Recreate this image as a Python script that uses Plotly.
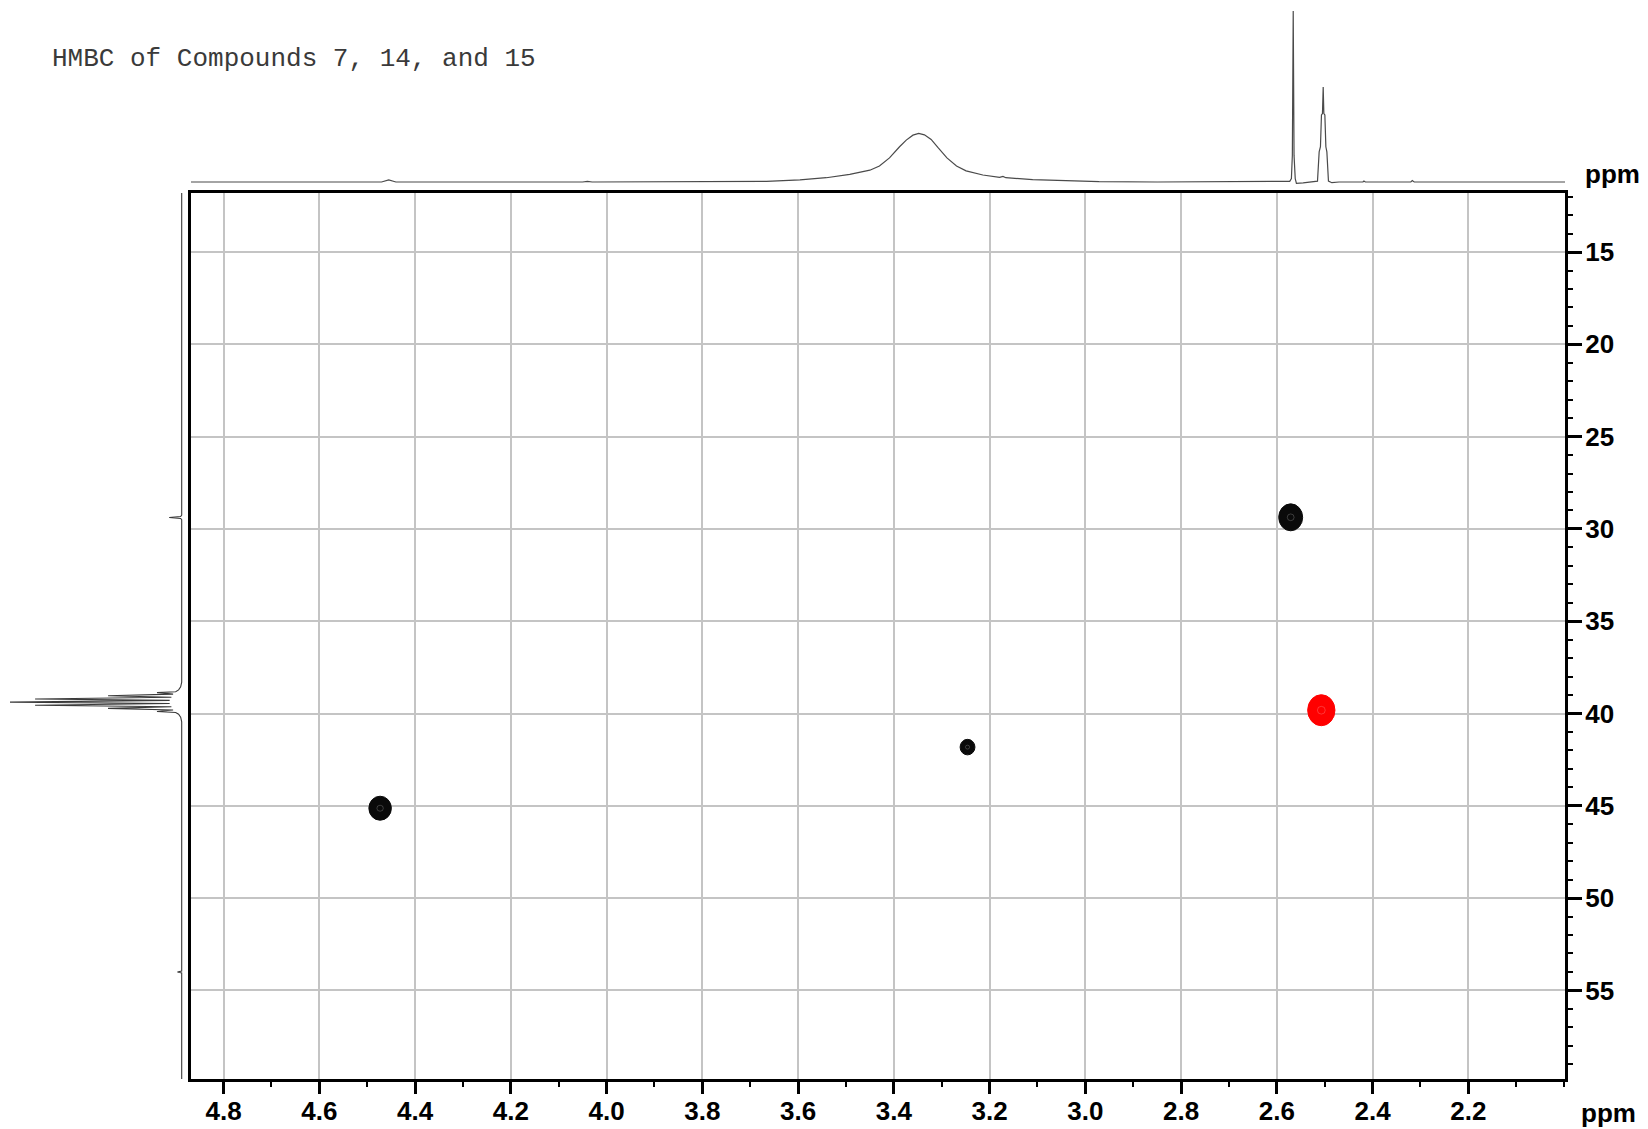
import plotly.graph_objects as go

W, H = 1648, 1129

# ---------------- data ----------------
# 1H projection (top trace): chemical shift (ppm) and relative intensity (tallest = 100)
h_ppm = [4.868, 4.47, 4.455, 4.44, 4.05, 4.04, 4.03, 3.93, 3.92, 3.91,
         3.805, 3.736, 3.666, 3.596, 3.541, 3.492, 3.450, 3.430, 3.409, 3.388,
         3.374, 3.360, 3.348, 3.336, 3.322, 3.308, 3.289, 3.269, 3.249, 3.214,
         3.179, 3.172, 3.166, 3.110, 3.040, 2.971, 2.85,
         2.60, 2.585, 2.573, 2.5695, 2.5675, 2.5657, 2.5640, 2.5615, 2.559, 2.545, 2.53,
         2.522, 2.515, 2.5115, 2.5088, 2.5067, 2.5046, 2.5031, 2.5017, 2.4996, 2.4975,
         2.4954, 2.4921, 2.485, 2.47, 2.42, 2.418, 2.415, 2.32, 2.317, 2.313, 1.998]
h_int = [0, 0, 1.2, 0, 0, 0.4, 0, 0, 0.4, 0,
         0.1, 0.2, 0.4, 1.2, 2.5, 4.5, 6.9, 9.4, 14.1, 20.6,
         24.5, 27.4, 28.4, 27.6, 24.9, 20.2, 14.1, 9.4, 6.5, 4.1,
         2.7, 3.3, 2.5, 1.4, 0.6, 0.2, 0,
         0, 0.2, 0.4, 2, 15.7, 100, 15.7, 2, -0.8, -0.5, 0,
         0, 0.5, 17.6, 20.6, 39.2, 40.0, 55.5, 40.0, 39.2, 20.6,
         17.6, 0.5, -0.4, 0, 0, 0.6, 0, 0, 0.8, 0, 0]

# 13C projection (left trace): chemical shift (ppm) and relative intensity
c_ppm = [11.8, 29.25, 29.33, 29.38, 29.43, 29.5, 38.3, 38.55, 38.72, 38.82,
         38.87, 38.95, 39.04, 39.12, 39.21, 39.29, 39.38, 39.46, 39.55, 39.63,
         39.72, 39.81, 39.89, 39.94, 40.04, 40.2, 40.45, 53.95, 54.0, 54.05, 59.8]
c_int = [0, 0, 0.6, 7.3, 0.6, 0, 0, 0.6, 1.8, 3.5,
         14.4, 5, 42.9, 6, 85.4, 7, 100, 7, 85.4, 6,
         42.9, 5, 14.4, 3.5, 1.8, 0.6, 0, 0, 2.5, 0, 0]

# HMBC cross peaks: 1H shift, 13C shift, extent in each dimension (ppm), phase group
xp_h = [2.571, 2.507, 4.473, 3.246]
xp_c = [29.37, 39.82, 45.13, 41.82]
xp_ext_h = [0.050, 0.057, 0.047, 0.031]
xp_ext_c = [1.46, 1.68, 1.30, 0.84]
xp_group = ["pos", "neg", "pos", "pos"]

# axes
x_range = [4.868, 1.998]
y_range = [59.8, 11.8]
x_ticks = [2.2, 2.4, 2.6, 2.8, 3.0, 3.2, 3.4, 3.6, 3.8, 4.0, 4.2, 4.4, 4.6, 4.8]
y_ticks = [15, 20, 25, 30, 35, 40, 45, 50, 55]

title_text = "HMBC of Compounds 7, 14, and 15"

# ---------------- styles ----------------
group_color = {"pos": "#0a0a0a", "neg": "#ff0000"}
grid_color = "#c4c4c4"
tick_font = dict(family="Liberation Sans, Arial, sans-serif", size=26, color="black", weight="bold")
right_font = dict(family="Liberation Sans, Arial, sans-serif", size=26, color="black", weight="bold")

def px_x(p):
    return p / W

def px_y(p):
    return 1 - p / H

main_xdom = [px_x(191), px_x(1565)]
main_ydom = [px_y(1079), px_y(193)]

fig = go.Figure()

# top 1H projection
fig.add_trace(go.Scatter(x=h_ppm, y=h_int, mode="lines", xaxis="x2", yaxis="y2",
                         line=dict(color="#4a4a4a", width=1.2), hoverinfo="skip"))
# left 13C projection
fig.add_trace(go.Scatter(x=c_int, y=c_ppm, mode="lines", xaxis="x3", yaxis="y3",
                         line=dict(color="#3a3a3a", width=1.1), hoverinfo="skip"))
# invisible anchor trace for main axes
fig.add_trace(go.Scatter(x=xp_h, y=xp_c, mode="markers", xaxis="x", yaxis="y",
                         marker=dict(size=1, opacity=0), hoverinfo="skip"))

shapes = []
for hx, cy, eh, ec, g in zip(xp_h, xp_c, xp_ext_h, xp_ext_c, xp_group):
    col = group_color[g]
    shapes.append(dict(type="circle", xref="x", yref="y",
                       x0=hx + eh / 2, x1=hx - eh / 2, y0=cy - ec / 2, y1=cy + ec / 2,
                       fillcolor=col, line=dict(color=col, width=1), layer="above"))
    # faint inner contour
    shapes.append(dict(type="circle", xref="x", yref="y",
                       x0=hx + eh / 7, x1=hx - eh / 7, y0=cy - ec / 8, y1=cy + ec / 8,
                       fillcolor="rgba(0,0,0,0)",
                       line=dict(color="rgba(255,255,255,0.2)", width=1), layer="above"))

# top projection scale: baseline at 182px, max at 11px
top_bottom, top_top = 184, 5
span_t = 100 * (top_bottom - top_top) / 171.0
vmin_t = -2 * span_t / (top_bottom - top_top)
# left projection scale: baseline at 181.7px, max at 10px
left_l, left_r = 2, 184
span_l = 100 * (left_r - left_l) / 171.7
umin_l = -(left_r - 181.7) * span_l / (left_r - left_l)

fig.update_layout(
    width=W, height=H,
    margin=dict(l=0, r=0, t=0, b=0),
    paper_bgcolor="white", plot_bgcolor="white",
    showlegend=False,
    shapes=shapes,
    xaxis=dict(domain=main_xdom, range=x_range, anchor="y",
               tickmode="array", tickvals=x_ticks, tickformat=".1f",
               ticks="outside", ticklen=12, tickwidth=2.5, tickcolor="black",
               ticklabelstandoff=-5,
               tickfont=tick_font,
               showgrid=True, gridcolor=grid_color, gridwidth=2,
               showline=True, linecolor="black", linewidth=3, mirror=True,
               zeroline=False,
               minor=dict(dtick=0.1, tick0=0, ticks="outside", ticklen=5,
                          tickwidth=2, tickcolor="black", showgrid=False)),
    yaxis=dict(domain=main_ydom, range=y_range, anchor="x", side="right",
               tickmode="array", tickvals=y_ticks,
               ticks="outside", ticklen=14, tickwidth=2.5, tickcolor="black",
               ticklabelstandoff=-2,
               tickfont=right_font,
               showgrid=True, gridcolor=grid_color, gridwidth=2,
               showline=True, linecolor="black", linewidth=3, mirror=True,
               zeroline=False,
               minor=dict(dtick=1, tick0=0, ticks="outside", ticklen=5,
                          tickwidth=2, tickcolor="black", showgrid=False)),
    xaxis2=dict(domain=main_xdom, range=x_range, anchor="y2", visible=False),
    yaxis2=dict(domain=[px_y(top_bottom), px_y(top_top)],
                range=[vmin_t, vmin_t + span_t], anchor="x2", visible=False),
    xaxis3=dict(domain=[px_x(left_l), px_x(left_r)],
                range=[umin_l + span_l, umin_l], anchor="y3", visible=False),
    yaxis3=dict(domain=main_ydom, range=y_range, anchor="x3", visible=False),
    annotations=[
        dict(text=title_text, xref="paper", yref="paper", x=px_x(50), y=px_y(59),
             xanchor="left", yanchor="middle", showarrow=False,
             font=dict(family="Courier New, Liberation Mono, monospace", size=26, color="#3a3a3a")),
        dict(text="ppm", xref="paper", yref="paper", x=px_x(1608), y=px_y(1113),
             xanchor="center", yanchor="middle", showarrow=False, font=tick_font),
        dict(text="ppm", xref="paper", yref="paper", x=px_x(1612), y=px_y(174),
             xanchor="center", yanchor="middle", showarrow=False, font=right_font),
    ],
)

fig.write_html(
    "out.html",
    config={"displayModeBar": False},
    post_script="document.body.style.margin='0';document.body.style.overflow='hidden';",
)
